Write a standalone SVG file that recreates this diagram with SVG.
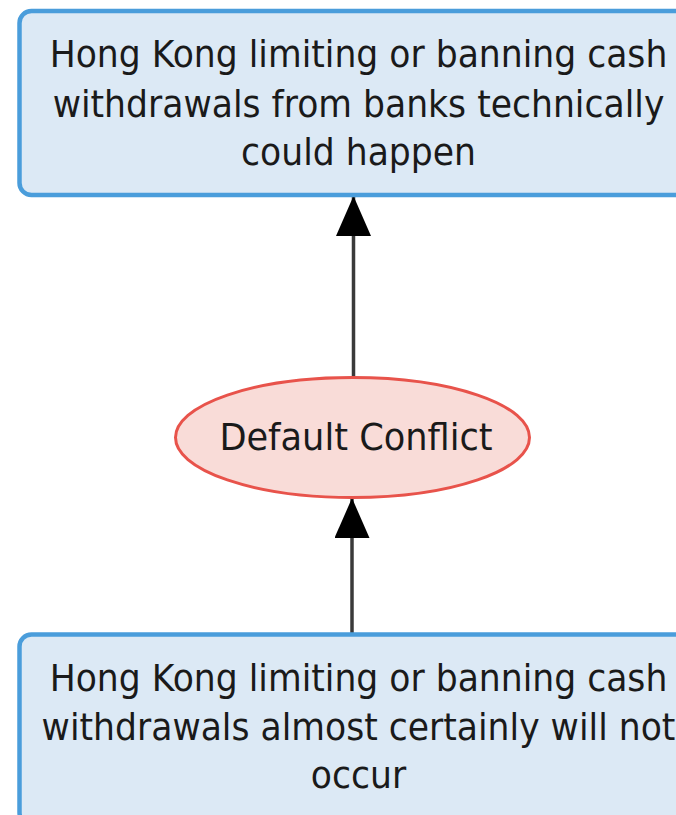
<svg xmlns="http://www.w3.org/2000/svg" width="676" height="815" viewBox="0 0 676 815">
<defs>
<style>
.box{fill:#dce9f5;stroke:#4a9ddb;stroke-width:4.5}
.ell{fill:#f9dcd8;stroke:#e8534b;stroke-width:3}
.t{font-family:"DejaVu Sans",Verdana,sans-serif;font-size:34.6px;fill:#1a1a1a;text-anchor:middle}
.te{font-family:"DejaVu Sans",Verdana,sans-serif;font-size:35.2px;fill:#1a1a1a;text-anchor:middle}
.edge{stroke:#3a3a3a;stroke-width:3.5;fill:none}
</style>
<marker id="arr" markerUnits="userSpaceOnUse" markerWidth="41" markerHeight="36" viewBox="0 0 41 36" refX="40" refY="17.5" orient="auto">
<path d="M0,0 L40,17.5 L0,35 z" fill="#000"/>
</marker>
</defs>
<rect width="676" height="815" fill="#fff"/>
<g id="connectors">
<line class="edge" x1="353.5" y1="378" x2="353.5" y2="196" marker-end="url(#arr)"/>
<line class="edge" x1="352" y1="634" x2="352" y2="498" marker-end="url(#arr)"/>
</g>
<g id="node-top">
<rect class="box" x="19.5" y="11" width="680" height="184" rx="12"/>
<g transform="translate(358.5,66.7) scale(1,1.08)"><text class="t" x="0" y="0">Hong Kong limiting or banning cash</text></g>
<g transform="translate(358.5,116.5) scale(1,1.08)"><text class="t" x="0" y="0">withdrawals from banks technically</text></g>
<g transform="translate(358.5,165) scale(1,1.08)"><text class="t" x="0" y="0">could happen</text></g>
</g>
<g id="node-conflict">
<ellipse class="ell" cx="352.5" cy="437.5" rx="177" ry="60"/>
<g transform="translate(356,450) scale(1,1.05)"><text class="te" x="0" y="0">Default Conflict</text></g>
</g>
<g id="node-bottom">
<rect class="box" x="19.5" y="634.5" width="680" height="190" rx="12"/>
<g transform="translate(358.5,691) scale(1,1.08)"><text class="t" x="0" y="0">Hong Kong limiting or banning cash</text></g>
<g transform="translate(358.5,739.5) scale(1,1.08)"><text class="t" x="0" y="0">withdrawals almost certainly will not</text></g>
<g transform="translate(358.5,788) scale(1,1.08)"><text class="t" x="0" y="0">occur</text></g>
</g>
</svg>
